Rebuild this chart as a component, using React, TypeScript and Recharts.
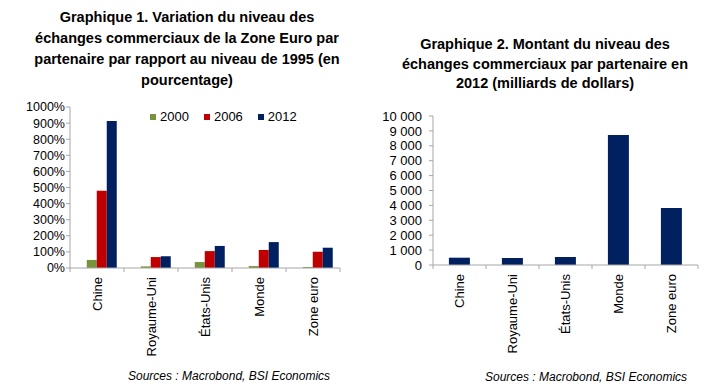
import { BarChart, Bar, XAxis, YAxis, Legend } from "recharts";

const categories = ["Chine", "Royaume-Uni", "États-Unis", "Monde", "Zone euro"];
const var2000 = [50, 10, 37, 12, 6];
const var2006 = [480, 68, 105, 112, 101];
const var2012 = [913, 73, 137, 161, 126];
const montant2012 = [490, 470, 537, 8725, 3826];
const pctTicks = [0, 100, 200, 300, 400, 500, 600, 700, 800, 900, 1000];
const amountTicks = [0, 1000, 2000, 3000, 4000, 5000, 6000, 7000, 8000, 9000, 10000];
const title1 = [
  "Graphique 1. Variation du niveau des",
  "échanges commerciaux de la Zone Euro par",
  "partenaire par rapport au niveau de 1995 (en",
  "pourcentage)",
];
const title2 = [
  "Graphique 2. Montant du niveau des",
  "échanges commerciaux par partenaire en",
  "2012 (milliards de dollars)",
];
const source = "Sources : Macrobond, BSI Economics";

const FONT = '"Liberation Sans", Arial, sans-serif';
const AXIS = "#a6a6a6";
const GREEN = "#77933c";
const RED = "#c00000";
const NAVY = "#002060";

const data1 = categories.map((c, i) => ({
  name: c,
  y2000: var2000[i],
  y2006: var2006[i],
  y2012: var2012[i],
}));
const data2 = categories.map((c, i) => ({ name: c, montant: montant2012[i] }));

const TICK_GAP = 9;

// rotated category label + tick marks on category boundaries
const CatTick = (props: any) => {
  const { x, y, payload, index, step, count } = props;
  const axisY = y - TICK_GAP;
  return (
    <g>
      <line x1={x - step / 2} x2={x - step / 2} y1={axisY} y2={axisY + 4} stroke={AXIS} />
      {index === count - 1 && (
        <line x1={x + step / 2} x2={x + step / 2} y1={axisY} y2={axisY + 4} stroke={AXIS} />
      )}
      <text
        x={x}
        y={y}
        transform={`rotate(-90 ${x} ${y})`}
        textAnchor="end"
        dy="0.35em"
        fontSize={13}
        fontFamily={FONT}
        fill="#000"
      >
        {payload.value}
      </text>
    </g>
  );
};

const LegendBox = (props: any) => {
  const items = (props.payload || []).filter((p: any) => p.type !== "none");
  return (
    <div style={{ display: "flex", fontFamily: FONT, fontSize: 13, color: "#000" }}>
      {items.map((p: any) => (
        <div key={p.value} style={{ display: "flex", alignItems: "center", marginRight: 15 }}>
          <span style={{ width: 6, height: 6, background: p.color, marginRight: 4, display: "inline-block" }} />
          <span>{p.value}</span>
        </div>
      ))}
    </div>
  );
};

const titleStyle: any = {
  position: "absolute",
  textAlign: "center",
  fontFamily: FONT,
  fontWeight: "bold",
  fontSize: 14.5,
  lineHeight: "21px",
  color: "#000",
  whiteSpace: "nowrap",
};

const sourceStyle: any = {
  position: "absolute",
  fontFamily: FONT,
  fontStyle: "italic",
  fontSize: 12,
  color: "#000",
};

export default function App() {
  return (
    <div style={{ position: "absolute", left: 0, top: 0, width: 718, height: 392, background: "#fff" }}>
      <div style={{ ...titleStyle, left: 17, width: 340, top: 7 }}>
        {title1.map((t) => (
          <div key={t}>{t}</div>
        ))}
      </div>
      <div style={{ ...titleStyle, left: 390, width: 310, top: 35, lineHeight: "19.5px" }}>
        {title2.map((t) => (
          <div key={t}>{t}</div>
        ))}
      </div>

      <div style={{ position: "absolute", left: 0, top: 0 }}>
        <BarChart
          width={360}
          height={392}
          data={data1}
          margin={{ top: 107, right: 20, bottom: 24, left: 0 }}
          barCategoryGap="12.5%"
          barGap={0}
        >
          <XAxis
            dataKey="name"
            height={100}
            interval={0}
            stroke={AXIS}
            tickLine={false}
            tickSize={0}
            tickMargin={TICK_GAP}
            tick={<CatTick step={54} count={categories.length} />}
          />
          <YAxis
            width={70}
            domain={[0, 1000]}
            ticks={pctTicks}
            interval={0}
            stroke={AXIS}
            tickSize={4}
            tickMargin={1}
            tick={{ fill: "#000", fontSize: 12.5, fontFamily: FONT }}
            tickFormatter={(v: number) => `${v}%`}
          />
          <Legend
            layout="horizontal"
            verticalAlign="middle"
            align="center"
            content={<LegendBox />}
            wrapperStyle={{ top: 109, left: 150, width: "auto" }}
          />
          <Bar dataKey="blank" legendType="none" isAnimationActive={false} />
          <Bar dataKey="y2000" name="2000" fill={GREEN} isAnimationActive={false} />
          <Bar dataKey="y2006" name="2006" fill={RED} isAnimationActive={false} />
          <Bar dataKey="y2012" name="2012" fill={NAVY} isAnimationActive={false} />
        </BarChart>
      </div>

      <div style={{ position: "absolute", left: 360, top: 0 }}>
        <BarChart
          width={358}
          height={392}
          data={data2}
          margin={{ top: 116, right: 20, bottom: 27, left: 0 }}
          barCategoryGap="30%"
        >
          <XAxis
            dataKey="name"
            height={100}
            interval={0}
            stroke={AXIS}
            tickLine={false}
            tickSize={0}
            tickMargin={TICK_GAP}
            tick={<CatTick step={53} count={categories.length} />}
          />
          <YAxis
            width={73}
            domain={[0, 10000]}
            ticks={amountTicks}
            interval={0}
            stroke={AXIS}
            tickSize={4}
            tickMargin={7}
            tick={{ fill: "#000", fontSize: 13, fontFamily: FONT }}
            tickFormatter={(v: number) => v.toLocaleString("en-US").replace(/,/g, " ")}
          />
          <Bar dataKey="montant" name="2012" fill={NAVY} isAnimationActive={false} />
        </BarChart>
      </div>

      <div style={{ ...sourceStyle, left: 128, top: 369 }}>{source}</div>
      <div style={{ ...sourceStyle, left: 485, top: 370 }}>{source}</div>
    </div>
  );
}
